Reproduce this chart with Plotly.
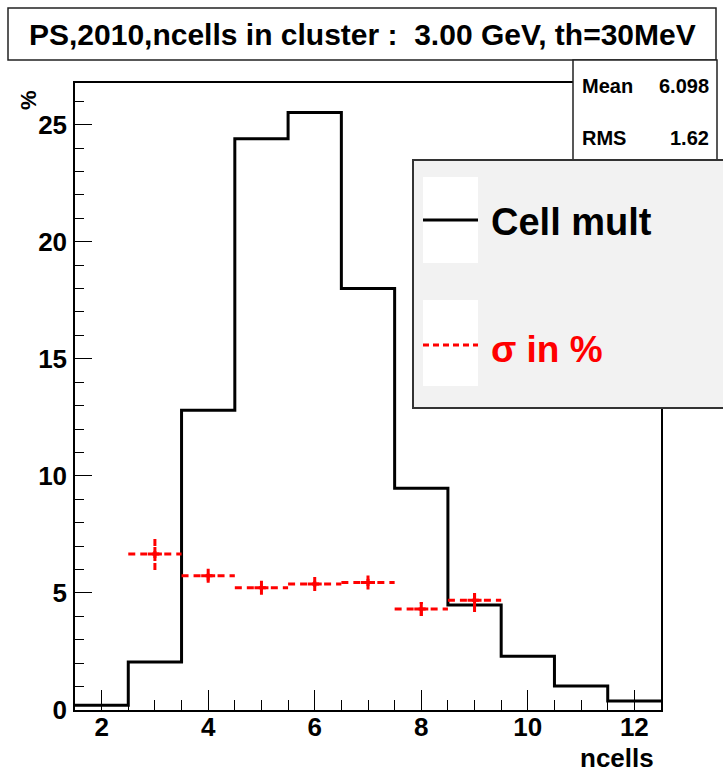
import plotly.graph_objects as go

# ---- data ----
bin_centers = [2, 3, 4, 5, 6, 7, 8, 9, 10, 11, 12]
cell_mult = [0.2, 2.05, 12.8, 24.4, 25.52, 18.0, 9.47, 4.48, 2.3, 1.02, 0.38]

sig_x = [3, 4, 5, 6, 7, 8, 9]
sig_y = [6.66, 5.73, 5.22, 5.38, 5.45, 4.31, 4.69]
sig_err = [0.68, 0.2, 0.1, 0.12, 0.15, 0.3, 0.5]
bin_half = 0.5

x_ticks = [2, 4, 6, 8, 10, 12]
y_ticks = [0, 5, 10, 15, 20, 25]

title_text = "PS,2010,ncells in cluster :  3.00 GeV, th=30MeV"
stats = [("Mean", "6.098"), ("RMS", "1.62")]

FONT = "Liberation Sans"
W, H = 723, 775
L, R, T, B = 75, 661, 83, 710  # plot area in pixels


def px(x):
    return (x - L) / (R - L)


def py(y):
    return (B - y) / (B - T)


fig = go.Figure()

# histogram as step line across bin edges
edges = [c - bin_half for c in bin_centers] + [bin_centers[-1] + bin_half]
step_y = cell_mult + [cell_mult[-1]]
fig.add_trace(go.Scatter(x=edges, y=step_y, mode="lines", line_shape="hv",
                         line=dict(color="black", width=3), showlegend=False,
                         hoverinfo="skip"))

# sigma points: dashed horizontal and vertical error bars
ex, ey = [], []
for x, y, e in zip(sig_x, sig_y, sig_err):
    ex += [x - bin_half, x + bin_half, None, x, x, None]
    ey += [y, y, None, y - e, y + e, None]
fig.add_trace(go.Scatter(x=ex, y=ey, mode="lines",
                         line=dict(color="red", width=3, dash="7px,5px"),
                         showlegend=False, hoverinfo="skip"))
fig.add_trace(go.Scatter(x=sig_x, y=sig_y, mode="markers",
                         marker=dict(symbol="cross-thin-open", size=10, color="red",
                                     line=dict(color="red", width=3)),
                         showlegend=False, hoverinfo="skip"))

axis_common = dict(showgrid=False, zeroline=False, showline=True, mirror=True,
                   linecolor="black", linewidth=1.5, ticks="inside",
                   tickcolor="black", tickwidth=1.2,
                   tickfont=dict(family=FONT, size=26, color="black", weight="bold"))

fig.update_xaxes(range=[1.5, 12.5], tickvals=x_ticks, ticklen=20,
                 minor=dict(ticks="inside", dtick=0.5, tick0=0, ticklen=10,
                            tickcolor="black", tickwidth=1.2),
                 ticklabelstandoff=-7,
                 **axis_common)
fig.update_yaxes(range=[0, 26.78], tickvals=y_ticks, ticklen=17,
                 minor=dict(ticks="inside", dtick=1, tick0=0, ticklen=9,
                            tickcolor="black", tickwidth=1.2),
                 ticklabelstandoff=1,
                 **axis_common)

shapes = []
annotations = []

# title box
shapes.append(dict(type="rect", xref="paper", yref="paper",
                   x0=px(8), x1=px(716), y0=py(60), y1=py(8),
                   line=dict(color="#222", width=1.5), fillcolor="white"))
annotations.append(dict(xref="paper", yref="paper", x=px(362), y=py(34),
                        text=title_text, showarrow=False, xanchor="center",
                        yanchor="middle",
                        font=dict(family=FONT, size=30, color="black", weight="bold")))

# stats box
shapes.append(dict(type="rect", xref="paper", yref="paper",
                   x0=px(573), x1=px(717), y0=py(160), y1=py(60),
                   line=dict(color="#222", width=1.5), fillcolor="white"))
for i, (k, v) in enumerate(stats):
    yy = py(86 + i * 52)
    annotations.append(dict(xref="paper", yref="paper", x=px(580), y=yy, text=k,
                            showarrow=False, xanchor="left", yanchor="middle",
                            font=dict(family=FONT, size=20, color="black", weight="bold")))
    annotations.append(dict(xref="paper", yref="paper", x=px(711), y=yy, text=v,
                            showarrow=False, xanchor="right", yanchor="middle",
                            font=dict(family=FONT, size=20, color="black", weight="bold")))

# legend box
shapes.append(dict(type="rect", xref="paper", yref="paper",
                   x0=px(413), x1=px(730), y0=py(408), y1=py(160),
                   line=dict(color="#333", width=2), fillcolor="#f2f2f2"))
for yc0, yc1 in [(177, 263), (300, 386)]:
    shapes.append(dict(type="rect", xref="paper", yref="paper",
                       x0=px(423), x1=px(478), y0=py(yc1), y1=py(yc0),
                       line=dict(width=0), fillcolor="white"))
shapes.append(dict(type="line", xref="paper", yref="paper",
                   x0=px(423), x1=px(478), y0=py(220), y1=py(220),
                   line=dict(color="black", width=3)))
shapes.append(dict(type="line", xref="paper", yref="paper",
                   x0=px(423), x1=px(478), y0=py(345), y1=py(345),
                   line=dict(color="red", width=3, dash="6px,4px")))
annotations.append(dict(xref="paper", yref="paper", x=px(489), y=py(222),
                        text="Cell mult", showarrow=False, xanchor="left",
                        yanchor="middle",
                        font=dict(family=FONT, size=38, color="black", weight="bold")))
annotations.append(dict(xref="paper", yref="paper", x=px(489), y=py(349),
                        text="σ in %", showarrow=False, xanchor="left",
                        yanchor="middle",
                        font=dict(family=FONT, size=37, color="red", weight="bold")))

# axis titles
annotations.append(dict(xref="paper", yref="paper", x=px(656), y=py(758),
                        text="ncells", showarrow=False, xanchor="right",
                        yanchor="middle",
                        font=dict(family=FONT, size=26, color="black", weight="bold")))
annotations.append(dict(xref="paper", yref="paper", x=px(28), y=py(100),
                        text="%", showarrow=False, textangle=-90, xanchor="center",
                        yanchor="middle",
                        font=dict(family=FONT, size=22, color="black", weight="bold")))

fig.update_layout(width=W, height=H,
                  margin=dict(l=L, r=W - R, t=T, b=H - B),
                  paper_bgcolor="white", plot_bgcolor="white",
                  shapes=shapes, annotations=annotations, showlegend=False)

fig.write_html("out.html")
